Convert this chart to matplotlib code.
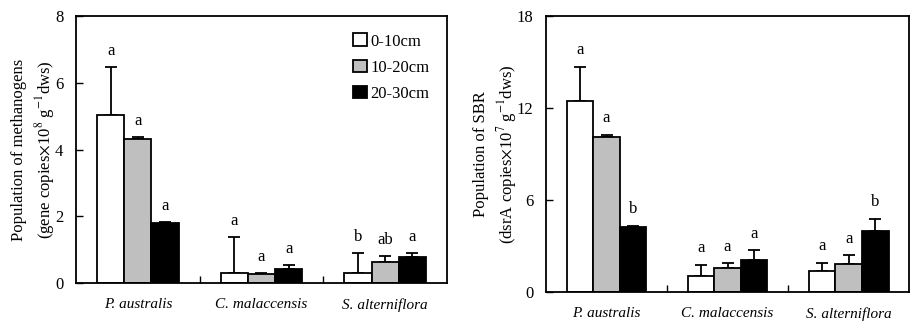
import numpy as np
import matplotlib
matplotlib.use("Agg")
import matplotlib.pyplot as plt

plt.rcParams['font.family'] = ['Liberation Serif', 'DejaVu Serif']
plt.rcParams['font.size'] = 11
plt.rcParams['mathtext.fontset'] = 'stix'

sites = ['P. australis', 'C. malaccensis', 'S. alterniflora']
depths = ['0-10cm', '10-20cm', '20-30cm']
colours = ['white', '#bfbfbf', 'black']

# methanogens (x10^8 gene copies g-1 dws), rows = depth, cols = site
meth = [[5.03, 0.30, 0.30],
        [4.31, 0.27, 0.63],
        [1.79, 0.42, 0.77]]
meth_err = [[1.43, 1.09, 0.60],
            [0.07, 0.04, 0.19],
            [0.05, 0.12, 0.14]]
meth_sig = [['a', 'a', 'b'],
            ['a', 'a', 'ab'],
            ['a', 'a', 'a']]

# SRB (x10^7 dsrA copies g-1 dws)
srb = [[12.46, 1.02, 1.37],
       [10.11, 1.54, 1.83],
       [4.22, 2.07, 3.98]]
srb_err = [[2.24, 0.76, 0.54],
           [0.13, 0.33, 0.56],
           [0.11, 0.65, 0.78]]
srb_sig = [['a', 'a', 'a'],
           ['a', 'a', 'a'],
           ['b', 'a', 'b']]

fig = plt.figure(figsize=(9.1, 3.26), dpi=100)
ax1 = fig.add_axes([0.0835, 0.1319, 0.4077, 0.819])
ax2 = fig.add_axes([0.6, 0.1043, 0.399, 0.8466])

width = 0.22
x = np.arange(len(sites))


def draw(ax, vals, errs, sig, ymax, ystep, ylabel):
    for i in range(3):
        pos = x + (i - 1) * width
        ax.bar(pos, vals[i], width, color=colours[i], edgecolor='black',
               linewidth=1.3, label=depths[i], zorder=2)
        ax.errorbar(pos, vals[i], yerr=[np.zeros(3), errs[i]], fmt='none',
                    ecolor='black', elinewidth=1.3, capsize=4, capthick=1.3,
                    zorder=1)
        for j in range(3):
            top = vals[i][j] + errs[i][j]
            ax.text(pos[j], top + 0.06 * ymax, sig[i][j], ha='center',
                    va='center', fontsize=12)
    ax.set_xlim(-0.5, 2.5)
    ax.set_ylim(0, ymax)
    ax.set_yticks(np.arange(0, ymax + 0.1, ystep))
    ax.set_xticks(x)
    ax.set_xticklabels(sites, style='italic')
    ax.set_xticks([0.5, 1.5], minor=True)
    ax.tick_params(axis='x', which='major', length=0, pad=11)
    ax.tick_params(axis='x', which='minor', direction='in', length=5,
                   width=1)
    ax.tick_params(axis='y', direction='in', length=5, width=1, pad=9,
                   labelsize=12)
    for s in ax.spines.values():
        s.set_linewidth(1.3)
    ax.set_ylabel(ylabel, fontsize=12, linespacing=1.35)


draw(ax1, meth, meth_err, meth_sig, 8, 2,
     'Population of methanogens\n(gene copies$\\times$10$^{8}$ g$^{-1}$dws)')
ax1.yaxis.set_label_coords(-0.052, 0.5)
draw(ax2, srb, srb_err, srb_sig, 18, 6,
     'Population of SBR\n(dsrA copies$\\times$10$^{7}$ g$^{-1}$dws)')
ax2.yaxis.set_label_coords(-0.074, 0.5)

ax1.legend(loc='upper right', bbox_to_anchor=(0.97, 0.96), frameon=False,
           handlelength=0.8, handleheight=0.8, handletextpad=0.2,
           labelspacing=0.6, fontsize=12, borderaxespad=0)

fig.savefig('out.png', dpi=100)
